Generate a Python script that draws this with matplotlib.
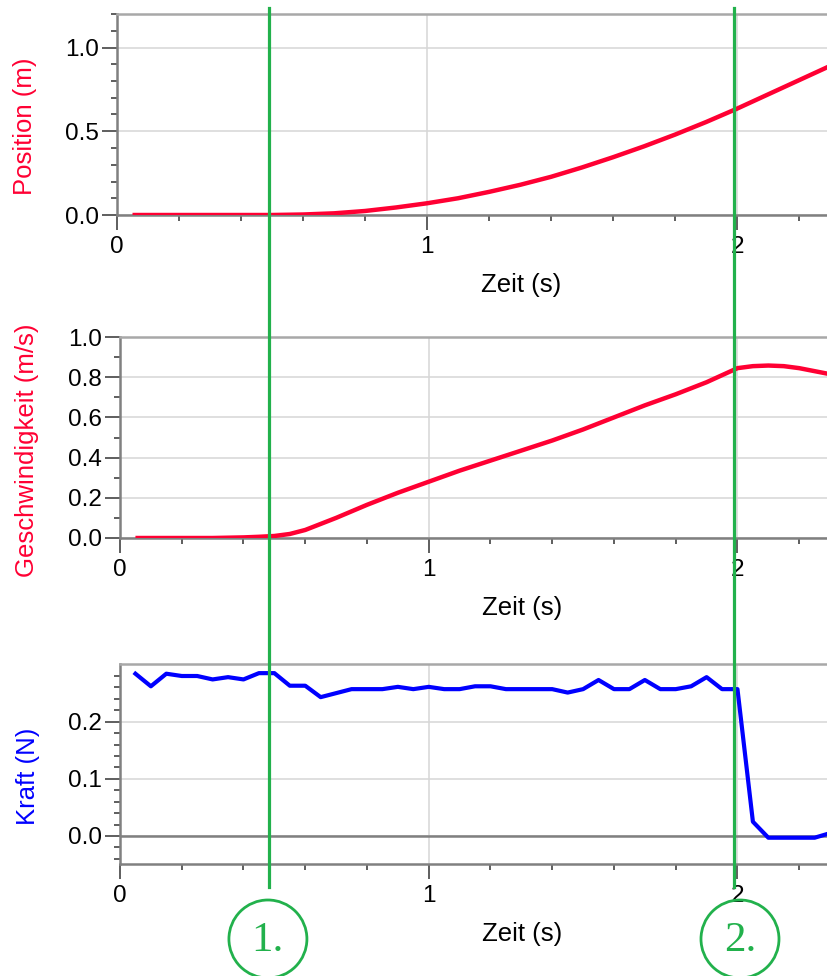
import matplotlib
matplotlib.use("Agg")
import matplotlib.pyplot as plt
from matplotlib.ticker import MultipleLocator, FixedLocator, FormatStrFormatter
from matplotlib.lines import Line2D
from matplotlib.patches import Ellipse

plt.rcParams['font.family'] = ['Liberation Sans', 'DejaVu Sans']

# ---- data ----
t_pos = [0.05, 0.1, 0.2, 0.3, 0.4, 0.5, 0.6, 0.7, 0.8, 0.9, 1.0, 1.1, 1.2, 1.3,
         1.4, 1.5, 1.6, 1.7, 1.8, 1.9, 2.0, 2.1, 2.2, 2.3]
position = [0.0, 0.0, 0.0, 0.0, 0.0, 0.0, 0.003, 0.01, 0.024, 0.045, 0.07, 0.1,
            0.138, 0.18, 0.228, 0.284, 0.345, 0.41, 0.48, 0.555, 0.635, 0.72,
            0.805, 0.89]

t_vel = [0.05, 0.1, 0.2, 0.3, 0.4, 0.45, 0.5, 0.55, 0.6, 0.7, 0.8, 0.9, 1.0, 1.1,
         1.2, 1.3, 1.4, 1.5, 1.6, 1.7, 1.8, 1.9, 2.0, 2.05, 2.1, 2.15, 2.2, 2.25, 2.3]
velocity = [0.0, 0.0, 0.0, 0.0, 0.003, 0.006, 0.01, 0.02, 0.04, 0.1, 0.165, 0.225,
            0.28, 0.335, 0.385, 0.435, 0.485, 0.54, 0.6, 0.66, 0.715, 0.775, 0.845,
            0.855, 0.858, 0.855, 0.845, 0.83, 0.815]

t_force = [0.05, 0.10, 0.15, 0.20, 0.25, 0.30, 0.35, 0.40, 0.45, 0.50, 0.55, 0.60,
           0.65, 0.70, 0.75, 0.80, 0.85, 0.90, 0.95, 1.00, 1.05, 1.10, 1.15, 1.20,
           1.25, 1.30, 1.35, 1.40, 1.45, 1.50, 1.55, 1.60, 1.65, 1.70, 1.75, 1.80,
           1.85, 1.90, 1.95, 2.00, 2.05, 2.10, 2.15, 2.20, 2.25, 2.30]
force = [0.284, 0.262, 0.284, 0.280, 0.280, 0.274, 0.278, 0.274, 0.285, 0.285,
         0.263, 0.263, 0.243, 0.250, 0.257, 0.257, 0.257, 0.261, 0.257, 0.261,
         0.257, 0.257, 0.262, 0.262, 0.257, 0.257, 0.257, 0.257, 0.251, 0.257,
         0.273, 0.257, 0.257, 0.273, 0.257, 0.257, 0.262, 0.278, 0.257, 0.257,
         0.025, -0.003, -0.003, -0.003, -0.003, 0.005]

marker_times = [0.49, 1.99]
marker_labels = ["1.", "2."]

x_label = "Zeit (s)"
y_labels = ["Position (m)", "Geschwindigkeit (m/s)", "Kraft (N)"]
RED = '#ff0033'
BLUE = '#0000ff'
GREEN = '#22b14c'

W, H = 827, 976
fig = plt.figure(figsize=(W / 100, H / 100), dpi=100)


def px_axes(left, top, right, bottom):
    return fig.add_axes([left / W, 1 - bottom / H, (right - left) / W, (bottom - top) / H])


ax1 = px_axes(117, 14, 827, 215)
ax2 = px_axes(120, 337, 827, 538)
ax3 = px_axes(120, 664, 827, 864)

ax1.plot(t_pos, position, color=RED, lw=3.2, solid_capstyle='butt', zorder=3)
ax2.plot(t_vel, velocity, color=RED, lw=3.2, solid_capstyle='butt', zorder=3)
ax3.plot(t_force, force, color=BLUE, lw=3.0, zorder=3)

ax1.set_ylim(0, 1.2)
ax1.yaxis.set_major_locator(FixedLocator([0.0, 0.5, 1.0]))
ax1.yaxis.set_minor_locator(MultipleLocator(0.1))
ax2.set_ylim(0, 1.0)
ax2.yaxis.set_major_locator(MultipleLocator(0.2))
ax2.yaxis.set_minor_locator(MultipleLocator(0.1))
ax3.set_ylim(-0.049, 0.301)
ax3.yaxis.set_major_locator(FixedLocator([0.0, 0.1, 0.2]))
ax3.yaxis.set_minor_locator(FixedLocator([-0.04, -0.02, 0.02, 0.04, 0.06, 0.08, 0.12,
                                          0.14, 0.16, 0.18, 0.22, 0.24, 0.26, 0.28]))
ax3.axhline(0, color='#808080', lw=1.8, zorder=2)

lab_y = [0.443, 0.438, 0.44]
lab_x = [-0.13, -0.131, -0.13]
for i, ax in enumerate([ax1, ax2, ax3]):
    ax.set_xlim(0, 2.29)
    ax.xaxis.set_major_locator(FixedLocator([0, 1, 2]))
    ax.xaxis.set_minor_locator(MultipleLocator(0.2))
    ax.xaxis.set_major_formatter(FormatStrFormatter('%d'))
    ax.yaxis.set_major_formatter(FormatStrFormatter('%.1f'))
    ax.grid(True, which='major', color='#d6d6d6', lw=1.1, zorder=0)
    ax.set_axisbelow(True)
    for s in ['left', 'bottom']:
        ax.spines[s].set_color('#808080')
        ax.spines[s].set_linewidth(1.8)
    ax.spines['top'].set_color('#a8a8a8')
    ax.spines['top'].set_linewidth(1.8)
    ax.spines['right'].set_visible(False)
    ax.tick_params(axis='both', which='major', direction='out', length=11, width=1.1,
                   color='#333333', labelsize=17.5, labelcolor='black')
    ax.tick_params(axis='both', which='minor', direction='out', length=4.5, width=1.1,
                   color='#333333')
    ax.tick_params(axis='x', which='major', pad=4)
    ax.tick_params(axis='y', which='major', pad=2)
    ax.set_xlabel(x_label, fontsize=18.5)
    ax.xaxis.set_label_coords(0.569, -0.35)
    ax.xaxis.label.set_va('center')
    col = BLUE if i == 2 else RED
    ax.set_ylabel(y_labels[i], fontsize=18.5, color=col)
    ax.yaxis.set_label_coords(lab_x[i], lab_y[i])
    ax.yaxis.label.set_va('center')

# green marker lines and circled labels
circle_offsets = [-1, 6]
fig.canvas.draw()
for tm, lab, off in zip(marker_times, marker_labels, circle_offsets):
    xd = ax1.transData.transform((tm, 0))[0]
    xf = xd / W
    fig.add_artist(Line2D([xf, xf], [1 - 8 / H, 1 - 887 / H], color=GREEN, lw=2.3,
                          transform=fig.transFigure, zorder=10))
    cx = xd + off
    cy = 939
    fig.add_artist(Ellipse((cx / W, 1 - cy / H), 78 / W, 78 / H, fill=False,
                           edgecolor=GREEN, lw=2.0, transform=fig.transFigure, zorder=10))
    fig.text(cx / W, 1 - (cy + 2) / H, lab, fontsize=31, color=GREEN,
             family=['Liberation Serif', 'DejaVu Serif'], ha='center', va='center')

fig.savefig("out.png", dpi=100)
